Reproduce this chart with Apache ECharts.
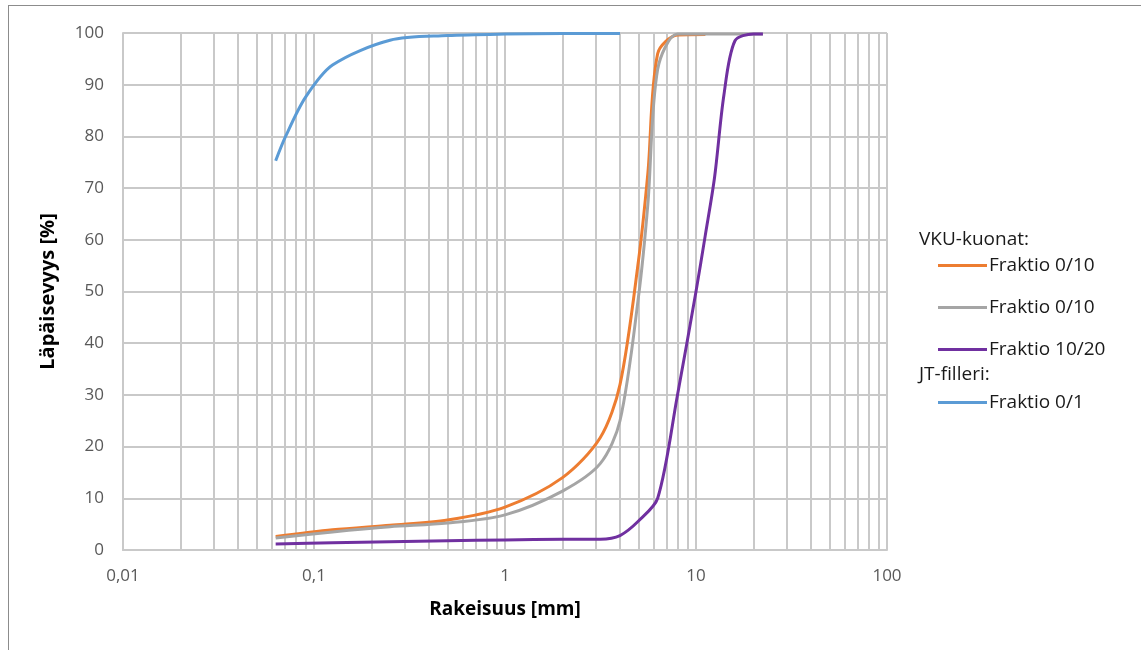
<!DOCTYPE html>
<html>
<head>
<meta charset="utf-8">
<script src="https://cdn.jsdelivr.net/npm/echarts@6/dist/echarts.min.js"></script>
<style>
html,body{margin:0;padding:0;background:#fff;}
#frame{position:absolute;left:8px;top:5px;width:1133px;height:645px;border-left:1px solid #8c8c8c;border-top:1px solid #8c8c8c;}
#main{position:absolute;left:0;top:0;width:1141px;height:650px;}
</style>
</head>
<body>
<div id="frame"></div>
<div id="main"></div>
<script>
// ---- data ----
var xTickLabels = ['0,01', '0,1', '1', '10', '100'];
var yTicks = [0, 10, 20, 30, 40, 50, 60, 70, 80, 90, 100];
var legendHeadings = ['VKU-kuonat:', 'JT-filleri:'];
var seriesNames = ['Fraktio 0/10', 'Fraktio 0/10 ', 'Fraktio 10/20', 'Fraktio 0/1'];

var vkuOrange = [[0.063,2.6],[0.125,3.9],[0.25,4.8],[0.5,5.8],[1,8.3],[2,14],[3.15,21.7],[4,32],[5,56],[5.6,73],[6.3,96],[8,99.6],[11.2,99.7]];
var vkuGray = [[0.063,2.3],[0.125,3.5],[0.25,4.5],[0.5,5.2],[1,6.8],[2,11.4],[3.15,16.7],[4,25],[5,49],[5.6,67],[6.3,93],[8,99.8],[11.2,99.8],[16,99.8],[22.4,99.8]];
var vkuPurple = [[0.063,1.15],[0.125,1.4],[0.25,1.6],[0.5,1.8],[1,1.95],[2,2.07],[3.15,2.1],[4,2.8],[5,5.6],[6.3,10],[8,30],[10,50],[11.2,61],[12.5,72],[14,88],[16,98.5],[20,99.8],[22.4,99.8]];
var jtBlue = [[0.063,75.3],[0.071,80],[0.09,87.5],[0.125,93.8],[0.25,98.6],[0.5,99.5],[1,99.8],[2,99.9],[4,99.9]];

// minor log gridlines (2..9 in each decade)
var minorGridValues = [];
[0.01, 0.1, 1, 10].forEach(function (d) {
  for (var m = 2; m <= 9; m++) minorGridValues.push(+(d * m).toPrecision(3));
});

var colors = ['#ED7D31', '#A5A5A5', '#7030A0', '#5B9BD5'];
var seriesData = [vkuOrange, vkuGray, vkuPurple, jtBlue];
var legendTops = [256, 298, 340, 393];

var gridColor = '#c9c9c9';
var chart = echarts.init(document.getElementById('main'));

var series = [{
  type: 'line', data: [], silent: true,
  markLine: {
    z: 1, silent: true, symbol: 'none', animation: false,
    label: {show: false},
    lineStyle: {color: gridColor, width: 2, type: 'solid'},
    emphasis: {disabled: true},
    data: minorGridValues.map(function (v) { return {xAxis: v}; })
  }
}];
seriesData.forEach(function (d, i) {
  series.push({
    name: seriesNames[i], type: 'line', data: d, z: 3,
    showSymbol: false, symbol: 'none', smooth: 0.3,
    lineStyle: {color: colors[i], width: 3}, itemStyle: {color: colors[i]},
    animation: false
  });
});

var legends = seriesNames.map(function (n, i) {
  return {
    data: [{name: n, icon: 'rect'}], left: 938, top: legendTops[i],
    itemWidth: 49, itemHeight: 3, itemGap: 2, padding: 0,
    selectedMode: false,
    formatter: function (s) { return s.trim(); },
    textStyle: {fontFamily: 'Open Sans', fontSize: 19, color: '#1a1a1a', padding: [0, 0, 0, -3]}
  };
});

chart.setOption({
  animation: false,
  grid: {left: 123, right: 254, top: 33, bottom: 100, containLabel: false},
  legend: legends,
  xAxis: {
    type: 'log', logBase: 10, min: 0.01, max: 100,
    name: 'Rakeisuus [mm]', nameLocation: 'middle', nameGap: 50,
    nameTextStyle: {fontFamily: 'Open Sans', fontSize: 19, fontWeight: 'bold', color: '#000'},
    axisLine: {show: true, lineStyle: {color: gridColor, width: 2}},
    axisTick: {show: false},
    axisLabel: {
      margin: 18, fontFamily: 'Open Sans', fontSize: 17, color: '#595959',
      formatter: function (v) {
        var idx = Math.round(Math.log10(v)) + 2;
        return xTickLabels[idx] !== undefined ? xTickLabels[idx] : '';
      }
    },
    splitLine: {show: true, lineStyle: {color: gridColor, width: 2}}
  },
  yAxis: {
    type: 'value', min: yTicks[0], max: yTicks[yTicks.length - 1], interval: 10,
    name: 'Läpäisevyys [%]', nameLocation: 'middle', nameGap: 65, nameRotate: 90,
    nameTextStyle: {fontFamily: 'Open Sans', fontSize: 20, fontWeight: 'bold', color: '#000'},
    axisLine: {show: true, lineStyle: {color: gridColor, width: 2}},
    axisTick: {show: false},
    axisLabel: {margin: 19, fontFamily: 'Open Sans', fontSize: 17, color: '#595959'},
    splitLine: {show: true, lineStyle: {color: gridColor, width: 2}}
  },
  graphic: [
    {type: 'text', left: 919, top: 230, style: {text: legendHeadings[0], font: '19px "Open Sans"', fill: '#1a1a1a'}},
    {type: 'text', left: 919, top: 365, style: {text: legendHeadings[1], font: '19px "Open Sans"', fill: '#1a1a1a'}}
  ],
  series: series
});
</script>
</body>
</html>
